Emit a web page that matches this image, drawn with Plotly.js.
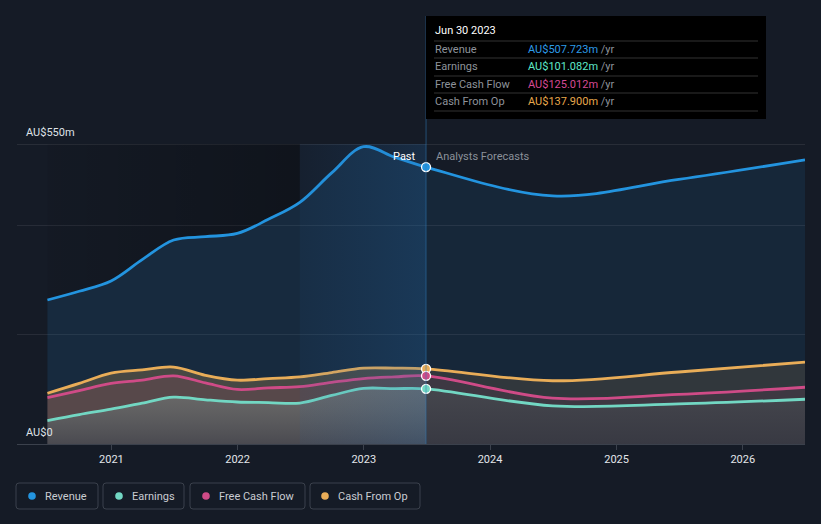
<!DOCTYPE html>
<html>
<head>
<meta charset="utf-8">
<script src="https://cdn.plot.ly/plotly-3.0.1.min.js"></script>
<style>
  html, body { margin: 0; padding: 0; background: #151b26; }
  #chart { width: 821px; height: 524px; }
</style>
</head>
<body>
<div id="chart"></div>
<script>
// ---- Data (AU$ millions) ----
const histDates = ['2020-06-30','2020-09-30','2020-12-31','2021-03-31','2021-06-30','2021-09-30','2021-12-31','2022-03-31','2022-06-30','2022-09-30','2022-12-31','2023-03-31','2023-06-30'];
const foreDates = ['2023-06-30','2024-06-30','2025-06-30','2026-06-30'];

const revenueHist  = [264, 280, 299, 338, 374, 380, 386, 412, 443, 497, 545, 526, 507.723];
const revenueFore  = [507.723, 455, 485, 521];
const earningsHist = [43, 54, 64, 75, 86, 81, 77, 76, 75, 89, 102, 101.5, 101.082];
const earningsFore = [101.082, 70, 73.5, 82];
const fcfHist      = [85, 98, 111, 117, 125, 112, 100, 103, 105, 113, 120, 123, 125.012];
const fcfFore      = [125.012, 84, 91, 104];
const cfoHist      = [93, 111, 130, 136, 141, 126, 117, 120, 123, 131, 139, 139, 137.9];
const cfoFore      = [137.9, 116, 132, 150];

const seriesNames  = ['Revenue', 'Earnings', 'Free Cash Flow', 'Cash From Op'];
const tooltipDate  = 'Jun 30 2023';
const tooltipVals  = ['AU$507.723m', 'AU$101.082m', 'AU$125.012m', 'AU$137.900m'];
const yTickVals    = [0, 200, 400, 550];
const yLabels      = ['AU$0', 'AU$550m'];
const xTickVals    = ['2021-01-01','2022-01-01','2023-01-01','2024-01-01','2025-01-01','2026-01-01'];
const xTickText    = ['2021','2022','2023','2024','2025','2026'];
const pastStart    = '2022-06-30';
const pastEnd      = '2023-06-30';

// ---- Styling ----
const colors = {
  Revenue: '#2394df', Earnings: '#72d7c3', 'Free Cash Flow': '#cf4b87', 'Cash From Op': '#e9ad58'
};
const tipColors = ['#2d9be8', '#5ee8c8', '#d64a94', '#e8a84c'];
const FONT = 'Roboto, "Open Sans", sans-serif';

// pixel helpers (plot area: x 17..805, y 144..444)
const L = 17, R = 805, T = 144, B = 444;
const xp = px => (px - L) / (R - L);
const yp = py => (B - py) / (B - T);

const fullDates = histDates.concat(foreDates.slice(1));
const full = (h, f) => h.concat(f.slice(1));
const YMAX = 550;

function fillTrace(x, y, rgba, grad) {
  const t = { x, y, type: 'scatter', mode: 'lines', line: { width: 0, shape: 'spline', smoothing: 1 },
           fill: 'tozeroy', fillcolor: rgba, hoverinfo: 'skip' };
  if (grad) t.fillgradient = grad;
  return t;
}
function lineTrace(x, y, color) {
  return { x, y, type: 'scatter', mode: 'lines', line: { width: 2.8, color, shape: 'spline', smoothing: 1 },
           hoverinfo: 'skip' };
}

const nDark = 9; // history points up to the start of the highlighted year
const traces = [
  fillTrace(histDates, revenueHist, 'rgba(35,148,223,0.13)'),
  fillTrace(foreDates, revenueFore, 'rgba(35,148,223,0.10)'),
  fillTrace(histDates, cfoHist, 'rgba(233,173,88,0.23)'),
  fillTrace(foreDates, cfoFore, 'rgba(233,173,88,0.13)'),
  fillTrace(histDates, fcfHist, 'rgba(207,75,135,0.12)'),
  fillTrace(foreDates, fcfFore, 'rgba(207,75,135,0.08)'),
  fillTrace(histDates, earningsHist, 'rgba(182,238,226,0.2)',
    { type: 'vertical', start: 0, stop: 100, colorscale: [[0, 'rgba(40,78,95,0.28)'], [1, 'rgba(182,238,226,0.2)']] }),
  fillTrace(foreDates, earningsFore, 'rgba(115,151,140,0.15)',
    { type: 'vertical', start: 0, stop: 100, colorscale: [[0, 'rgba(29,65,70,0.15)'], [1, 'rgba(115,151,140,0.15)']] }),
  // darker gradient above the revenue line before the highlighted year
  { x: histDates.slice(0, nDark), y: revenueHist.slice(0, nDark), type: 'scatter', mode: 'lines',
    line: { width: 0, shape: 'spline', smoothing: 1 }, hoverinfo: 'skip' },
  { x: histDates.slice(0, nDark), y: histDates.slice(0, nDark).map(() => YMAX), type: 'scatter', mode: 'lines',
    line: { width: 0 }, fill: 'tonexty', fillcolor: 'rgba(0,0,0,0.18)', hoverinfo: 'skip',
    fillgradient: { type: 'horizontal', colorscale: [[0, 'rgba(0,0,0,0.06)'], [1, 'rgba(0,0,0,0.27)']] } },
  lineTrace(fullDates, full(revenueHist, revenueFore), colors.Revenue),
  lineTrace(fullDates, full(cfoHist, cfoFore), colors['Cash From Op']),
  lineTrace(fullDates, full(fcfHist, fcfFore), colors['Free Cash Flow']),
  lineTrace(fullDates, full(earningsHist, earningsFore), colors.Earnings),
  // highlighted last-year band
  { x: [pastStart, pastEnd], y: [YMAX, YMAX], type: 'scatter', mode: 'lines', line: { width: 0 },
    fill: 'tozeroy', fillcolor: 'rgba(35,110,180,0.14)', hoverinfo: 'skip',
    fillgradient: { type: 'horizontal', colorscale: [[0, 'rgba(35,100,170,0.07)'], [1, 'rgba(35,110,180,0.22)']] } },
  {
    x: [histDates[12], histDates[12], histDates[12], histDates[12]],
    y: [revenueHist[12], cfoHist[12], fcfHist[12], earningsHist[12]],
    type: 'scatter', mode: 'markers', hoverinfo: 'skip',
    marker: { size: 9, color: [colors.Revenue, colors['Cash From Op'], colors['Free Cash Flow'], colors.Earnings],
              line: { color: '#ffffff', width: 1.3 } }
  }
];

const shapes = [];
// top grid line
shapes.push({ type: 'line', layer: 'below', xref: 'paper', yref: 'y', x0: 0, x1: 1, y0: YMAX, y1: YMAX,
  line: { color: 'rgba(255,255,255,0.17)', width: 1 } });
// hover vertical line
shapes.push({ type: 'line', layer: 'above', xref: 'x', yref: 'paper', x0: pastEnd, x1: pastEnd,
  y0: 0, y1: yp(16), line: { color: 'rgba(50,120,180,0.55)', width: 1 } });
// tooltip box
shapes.push({ type: 'rect', layer: 'above', xref: 'paper', yref: 'paper', x0: xp(426), x1: xp(766),
  y0: yp(119), y1: yp(16), line: { width: 0 }, fillcolor: '#000000' });
[41, 58, 76, 93, 111].forEach(py => shapes.push({ type: 'line', layer: 'above', xref: 'paper', yref: 'paper',
  x0: xp(434), x1: xp(758), y0: yp(py), y1: yp(py), line: { color: '#333333', width: 1 } }));

// legend boxes with rounded corners
const legendBoxes = [[16, 98], [103, 184], [190, 305], [310, 420]];
const LT = 483, LB = 509, rad = 3;
legendBoxes.forEach(([a, b]) => {
  const X = v => xp(v), Y = v => yp(v);
  const d = `M ${X(a+rad)},${Y(LT)} L ${X(b-rad)},${Y(LT)} Q ${X(b)},${Y(LT)} ${X(b)},${Y(LT+rad)} ` +
            `L ${X(b)},${Y(LB-rad)} Q ${X(b)},${Y(LB)} ${X(b-rad)},${Y(LB)} L ${X(a+rad)},${Y(LB)} ` +
            `Q ${X(a)},${Y(LB)} ${X(a)},${Y(LB-rad)} L ${X(a)},${Y(LT+rad)} Q ${X(a)},${Y(LT)} ${X(a+rad)},${Y(LT)} Z`;
  shapes.push({ type: 'path', xref: 'paper', yref: 'paper', path: d, line: { color: '#3b414c', width: 1 },
    fillcolor: 'rgba(0,0,0,0)' });
});

const annotations = [];
function ann(px, py, text, color, size, anchor, extra) {
  annotations.push(Object.assign({ xref: 'paper', yref: 'paper', x: xp(px), y: yp(py), text, showarrow: false,
    xanchor: anchor || 'left', yanchor: 'middle', font: { family: FONT, size: size || 11, color } }, extra || {}));
}
// y labels
ann(24, 132, yLabels[1], '#dfe2e7', 11);
ann(24, 432, yLabels[0], '#dfe2e7', 11);
// past / forecast labels
ann(418, 156, 'Past', '#ffffff', 11, 'right');
ann(434, 156, 'Analysts Forecasts', '#8b919a', 11, 'left');
// tooltip
ann(433, 31, tooltipDate, '#ffffff', 11);
[49, 66, 84, 101].forEach((py, i) => {
  ann(433, py, seriesNames[i], '#8e939b', 11);
  ann(526, py, `<span style="color:${tipColors[i]}">${tooltipVals[i]}</span> /yr`, '#8e939b', 11);
});
// legend dots and text
const legendDotX = [32, 119, 206, 325];
seriesNames.forEach((n, i) => {
  const cx = legendDotX[i], cy = 496, r = 3.8;
  shapes.push({ type: 'circle', xref: 'paper', yref: 'paper', x0: xp(cx - r), x1: xp(cx + r),
    y0: yp(cy + r), y1: yp(cy - r), line: { width: 0 }, fillcolor: colors[n] });
  ann(cx + 11, 496, n, '#c9ccd2', 11);
});

const layout = {
  width: 821, height: 524,
  margin: { l: L, r: 821 - R, t: T, b: 524 - B, pad: 0 },
  paper_bgcolor: '#151b26', plot_bgcolor: '#151b26',
  showlegend: false, hovermode: false,
  font: { family: FONT, color: '#dfe2e7', size: 11 },
  xaxis: {
    type: 'date', range: ['2020-04-03', '2026-06-30'], fixedrange: true,
    tickvals: xTickVals, ticktext: xTickText, ticks: 'outside', ticklen: 5, tickcolor: '#3b414c',
    showgrid: false, showline: true, linecolor: '#3b414c', linewidth: 1, zeroline: false,
    tickfont: { family: FONT, size: 11, color: '#e3e6ea' }
  },
  yaxis: {
    range: [0, YMAX], fixedrange: true, tickvals: yTickVals, showticklabels: false,
    gridcolor: 'rgba(255,255,255,0.08)', gridwidth: 1, zeroline: false, showline: false
  },
  shapes, annotations
};

Plotly.newPlot('chart', traces, layout, { displayModeBar: false, staticPlot: true });
</script>
</body>
</html>
